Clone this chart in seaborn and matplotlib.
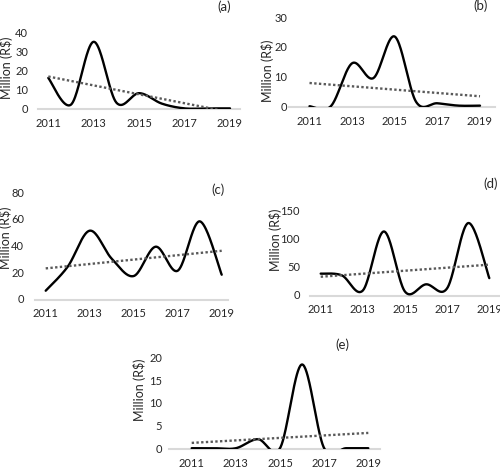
import numpy as np
import matplotlib
matplotlib.use("Agg")
import matplotlib.pyplot as plt
import seaborn as sns

# anos e valores (milhoes de R$)
anos = [2011, 2012, 2013, 2014, 2015, 2016, 2017, 2018, 2019]
serie_a = [16, 2, 35, 3, 8, 2.5, 0, 0, 0]
serie_b = [0, 0, 14.5, 9.5, 23.5, 1.5, 1, 0.2, 0.2]
serie_c = [6, 24, 51, 30, 17, 39, 21, 58, 18]
serie_d = [38, 35, 8, 113, 6, 19, 12, 128, 30]
serie_e = [0, 0, 0, 2, 0, 18.5, 0, 0, 0]

rotulos = ["(a)", "(b)", "(c)", "(d)", "(e)"]
xticks = [2011, 2013, 2015, 2017, 2019]
yticks_a = [0, 10, 20, 30, 40]
yticks_b = [0, 10, 20, 30]
yticks_c = [0, 20, 40, 60, 80]
yticks_d = [0, 50, 100, 150]
yticks_e = [0, 5, 10, 15, 20]

sns.set_theme(style="white")
plt.rcParams['font.family'] = ['Lato', 'DejaVu Sans']

W, H = 500, 468


def suavizar(xs, ys, n=40):
    """Curva suave tipo Excel (Bezier / Catmull-Rom)."""
    p = np.column_stack([xs, ys]).astype(float)
    p = np.vstack([p[0], p, p[-1]])
    out = []
    t = np.linspace(0, 1, n)[:, None]
    for i in range(1, len(p) - 2):
        p0, p1, p2, p3 = p[i - 1], p[i], p[i + 1], p[i + 2]
        c1 = p1 + (p2 - p0) / 6
        c2 = p2 - (p3 - p1) / 6
        seg = ((1 - t) ** 3) * p1 + 3 * ((1 - t) ** 2) * t * c1 + 3 * (1 - t) * t ** 2 * c2 + t ** 3 * p2
        out.append(seg if i == 1 else seg[1:])
    out = np.vstack(out)
    return out[:, 0], out[:, 1]


def painel(fig, geo, valores, yticks, rotulo, rot_px, ylab_px, ypad):
    # geo: pixel x de 2011, pixel x de 2019, borda esq., borda dir., y do topo, y do zero
    x11, x19, left, right, top, y0 = geo
    ppy = (x19 - x11) / 8
    ax = fig.add_axes([left / W, 1 - y0 / H, (right - left) / W, (y0 - top) / H])
    xs, ys = suavizar(anos, valores)
    sns.lineplot(x=xs, y=ys, sort=False, estimator=None, color='black', lw=1.7,
                 ax=ax, zorder=3)
    coef = np.polyfit(anos, valores, 1)
    tx = np.array([anos[0], anos[-1]])
    sns.lineplot(x=tx, y=np.polyval(coef, tx), color='#595959', lw=1.7,
                 linestyle=(0, (1, 1)), ax=ax, zorder=3)
    ax.set_xlim(2011 - (x11 - left) / ppy, 2019 + (right - x19) / ppy)
    # um pouco abaixo de zero para a linha em 0 aparecer inteira
    ax.set_ylim(-yticks[-1] * 0.012, yticks[-1])
    ax.set_xticks(xticks)
    ax.set_yticks(yticks)
    for s in ['top', 'right', 'left']:
        ax.spines[s].set_visible(False)
    ax.spines['bottom'].set_color('#d9d9d9')
    ax.spines['bottom'].set_linewidth(1.5)
    ax.spines['bottom'].set_zorder(1)
    ax.tick_params(length=0, labelsize=8, labelcolor='#262626')
    ax.tick_params(axis='y', pad=ypad * 0.72)
    ax.tick_params(axis='x', pad=6)
    ax.set_ylabel('')
    ax.set_facecolor('none')
    fig.text(ylab_px[0] / W, 1 - ylab_px[1] / H, 'Million (R$)', rotation=90,
             fontsize=9, ha='center', va='center')
    fig.text(rot_px[0] / W, 1 - rot_px[1] / H, rotulo, fontsize=9.5,
             ha='center', va='center')
    return ax


fig = plt.figure(figsize=(W / 100, H / 100), dpi=100)
painel(fig, (48.3, 230, 38, 240, 32.3, 109.3), serie_a, yticks_a, rotulos[0],
       (224, 7), (7, 68), 10)
painel(fig, (309.5, 480, 289, 495, 17.3, 107.3), serie_b, yticks_b, rotulos[1],
       (481, 6), (267, 71), 2)
painel(fig, (45.7, 221.7, 35, 228, 192, 300), serie_c, yticks_c, rotulos[2],
       (218, 190), (6, 238), 11)
painel(fig, (320.7, 489.3, 310, 500, 210.7, 296), serie_d, yticks_d, rotulos[3],
       (491, 184), (275, 240), 10)
painel(fig, (191.7, 368.3, 169, 380, 357.7, 449.3), serie_e, yticks_e, rotulos[4],
       (342, 345), (140, 390), 7)

fig.savefig('out.png', dpi=100)
